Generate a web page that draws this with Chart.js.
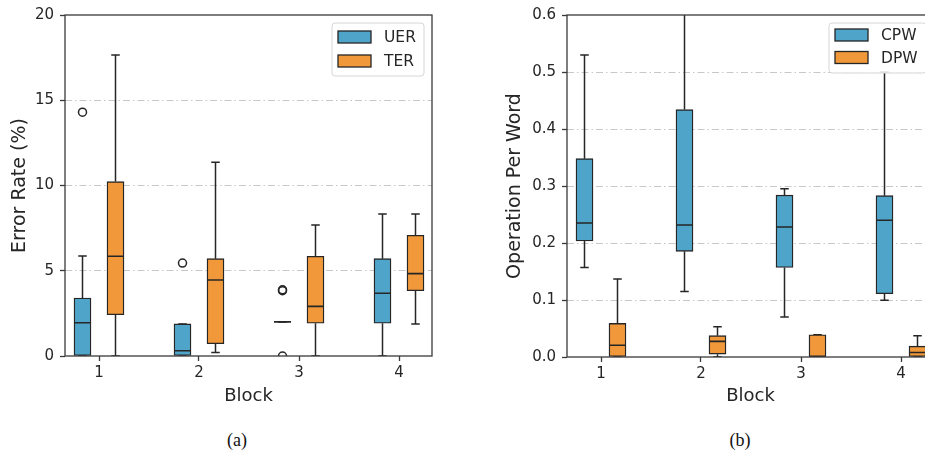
<!DOCTYPE html>
<html>
<head>
<meta charset="utf-8">
<script src="https://cdn.jsdelivr.net/npm/chart.js@4.4.1/dist/chart.umd.min.js"></script>
<style>
  html, body { margin: 0; padding: 0; background: #fff; width: 925px; height: 456px; overflow: hidden; }
  .panel { position: absolute; top: 0; height: 420px; }
  #wrapA { left: 0; width: 462px; }
  #wrapB { left: 480px; width: 480px; }
  .cap { position: absolute; top: 430px; font-family: "Liberation Serif", "DejaVu Serif", serif; font-size: 18px; color: #111; transform: translateX(-50%); }
</style>
</head>
<body>
<div class="panel" id="wrapA"><canvas id="chartA" width="462" height="420"></canvas></div>
<div class="panel" id="wrapB"><canvas id="chartB" width="480" height="420"></canvas></div>
<div class="cap" style="left:237px">(a)</div>
<div class="cap" style="left:740px">(b)</div>
<script>
// --- data ---
const blocks = [1, 2, 3, 4];

// (a) error rate, %
const uerLow  = [0, 0, 2.0, 0];
const uerQ1   = [0, 0, 2.0, 1.92];
const uerMed  = [1.95, 0.31, 2.0, 3.68];
const uerQ3   = [3.40, 1.88, 2.0, 5.71];
const uerHigh = [5.87, 1.88, 2.0, 8.33];
const uerOut  = [[14.3], [5.45], [3.83, 3.88, 0], []];

const terLow  = [0, 0.2, 0, 1.88];
const terQ1   = [2.42, 0.72, 1.92, 3.83];
const terMed  = [5.85, 4.46, 2.91, 4.83];
const terQ3   = [10.23, 5.71, 5.85, 7.08];
const terHigh = [17.65, 11.36, 7.68, 8.33];
const terOut  = [[], [], [], []];

// (b) operations per word
const cpwLow  = [0.157, 0.115, 0.070, 0.0995];
const cpwQ1   = [0.2035, 0.1854, 0.157, 0.111];
const cpwMed  = [0.235, 0.2316, 0.228, 0.240];
const cpwQ3   = [0.348, 0.434, 0.284, 0.283];
const cpwHigh = [0.530, 0.63, 0.295, 0.500];
const cpwOut  = [[], [], [], []];

const dpwLow  = [0, 0, 0, 0];
const dpwQ1   = [0, 0.005, 0, 0];
const dpwMed  = [0.0205, 0.0275, 0, 0.008];
const dpwQ3   = [0.059, 0.0374, 0.039, 0.019];
const dpwHigh = [0.137, 0.053, 0.039, 0.0374];
const dpwOut  = [[], [], [], []];

const BLUE = '#4fa5c9';
const ORANGE = '#f0983a';
const INK = '#262626';
const FONT = 'DejaVu Sans';

// one box series -> bar (box), line (whiskers + caps), line (median), scatter (fliers)
function boxSeries(label, color, off, low, q1, med, q3, high, out) {
  const hw = 0.085, cw = 0.0425;
  const whisk = [], meds = [], fl = [];
  blocks.forEach((b, i) => {
    const p = b + off;
    whisk.push({x: p, y: low[i]}, {x: p, y: q1[i]}, {x: p, y: null},
               {x: p, y: q3[i]}, {x: p, y: high[i]}, {x: p, y: null},
               {x: p - cw, y: low[i]}, {x: p + cw, y: low[i]}, {x: p, y: null},
               {x: p - cw, y: high[i]}, {x: p + cw, y: high[i]}, {x: p, y: null});
    meds.push({x: p - hw, y: med[i]}, {x: p + hw, y: med[i]}, {x: p, y: null});
    out[i].forEach(v => fl.push({x: p, y: v}));
  });
  return [
    { type: 'bar', label, data: blocks.map((b, i) => ({x: b + off, y: [q1[i], q3[i]]})),
      backgroundColor: color, borderColor: INK, borderWidth: 1.4, borderSkipped: false,
      grouped: false, barThickness: 17, order: 2 },
    { type: 'line', label: '_w', data: whisk, borderColor: INK, borderWidth: 1.5,
      pointRadius: 0, spanGaps: false, order: 3 },
    { type: 'line', label: '_m', data: meds, borderColor: INK, borderWidth: 1.6,
      pointRadius: 0, spanGaps: false, order: 1 },
    { type: 'scatter', label: '_f', data: fl, showLine: false, pointRadius: 4,
      pointBorderWidth: 1.5, pointBackgroundColor: 'rgba(0,0,0,0)', pointBorderColor: INK,
      clip: 0, order: 0 }
  ];
}

// frame on all four sides + matplotlib style legend
const framePlugin = {
  id: 'frameLegend',
  afterDatasetsDraw(chart) {
    const {ctx, chartArea: a} = chart;
    ctx.save();
    ctx.strokeStyle = '#3a3a3a';
    ctx.lineWidth = 1.3;
    ctx.strokeRect(a.left, a.top, a.right - a.left, a.bottom - a.top);
    ctx.restore();
  },
  afterDraw(chart, args, opts) {
    const {ctx, chartArea: a} = chart;
    const items = chart.data.datasets.filter(d => d.type === 'bar');
    const w = opts.width, h = opts.height;
    const x0 = a.right - 8 - w, y0 = a.top + 8;
    ctx.save();
    ctx.fillStyle = 'rgba(255,255,255,0.85)';
    ctx.strokeStyle = '#d6d6d6';
    ctx.lineWidth = 1;
    ctx.beginPath();
    ctx.roundRect(x0, y0, w, h, 3);
    ctx.fill();
    ctx.stroke();
    ctx.font = '15.5px "' + FONT + '"';
    ctx.textBaseline = 'middle';
    items.forEach((d, i) => {
      const cy = y0 + opts.first + i * opts.step;
      ctx.fillStyle = d.backgroundColor;
      ctx.fillRect(x0 + 6, cy - 6, 33, 12);
      ctx.strokeStyle = INK;
      ctx.lineWidth = 1.3;
      ctx.strokeRect(x0 + 6, cy - 6, 33, 12);
      ctx.fillStyle = '#262626';
      ctx.fillText(d.label, x0 + 52, cy + 1);
    });
    ctx.restore();
  }
};

function makeChart(id, cfg) {
  return new Chart(document.getElementById(id), {
    type: 'bar',
    data: { datasets: [
      ...boxSeries(cfg.names[0], BLUE, -0.165, ...cfg.s1),
      ...boxSeries(cfg.names[1], ORANGE, 0.165, ...cfg.s2)
    ]},
    options: {
      responsive: false,
      animation: false,
      layout: { padding: { top: 15, right: cfg.padRight, left: 0, bottom: 0 } },
      plugins: {
        legend: { display: false },
        tooltip: { enabled: false },
        frameLegend: cfg.legend
      },
      scales: {
        x: {
          type: 'linear', min: 0.66, max: 4.33, offset: false,
          afterBuildTicks: s => { s.ticks = blocks.map(v => ({value: v})); },
          afterFit: s => { s.height = cfg.xHeight; },
          grid: { offset: false, drawOnChartArea: false, drawTicks: true, tickLength: 5,
                  tickColor: '#3a3a3a', tickWidth: 1.3 },
          border: { display: false },
          ticks: { color: '#262626', font: { family: FONT, size: 15 }, padding: 3 },
          title: { display: true, text: 'Block', color: '#262626',
                   font: { family: FONT, size: 18, lineHeight: 1.2 }, padding: { bottom: 13 } }
        },
        y: {
          min: 0, max: cfg.yMax,
          afterFit: s => { s.width = cfg.yWidth; },
          ticks: { stepSize: cfg.yStep, color: '#262626', font: { family: FONT, size: 15 }, padding: 6,
                   callback: cfg.fmt },
          grid: { color: c => (c.tick && c.tick.value > 1e-9 && c.tick.value < cfg.yMax - 1e-9) ? '#c8c8c8' : 'rgba(0,0,0,0)',
                  lineWidth: 1, tickLength: 5, tickColor: '#3a3a3a', tickWidth: 1.3 },
          border: { display: false, dash: [7, 3, 1.5, 3] },
          title: { display: true, text: cfg.yTitle, color: '#262626',
                   font: { family: FONT, size: 19, lineHeight: 1.2 }, padding: { top: cfg.yTitlePad } }
        }
      }
    },
    plugins: [framePlugin]
  });
}

makeChart('chartA', {
  names: ['UER', 'TER'],
  s1: [uerLow, uerQ1, uerMed, uerQ3, uerHigh, uerOut],
  s2: [terLow, terQ1, terMed, terQ3, terHigh, terOut],
  yMax: 20, yStep: 5, fmt: v => v, yTitle: 'Error Rate (%)', yTitlePad: 9,
  yWidth: 65, xHeight: 64, padRight: 30,
  legend: { width: 92, height: 53, first: 14, step: 24 }
});

makeChart('chartB', {
  names: ['CPW', 'DPW'],
  s1: [cpwLow, cpwQ1, cpwMed, cpwQ3, cpwHigh, cpwOut],
  s2: [dpwLow, dpwQ1, dpwMed, dpwQ3, dpwHigh, dpwOut],
  yMax: 0.6, yStep: 0.1, fmt: v => v.toFixed(1), yTitle: 'Operation Per Word', yTitlePad: 24,
  yWidth: 87, xHeight: 63, padRight: 26,
  legend: { width: 97, height: 50, first: 12, step: 22.5 }
});
</script>
</body>
</html>
